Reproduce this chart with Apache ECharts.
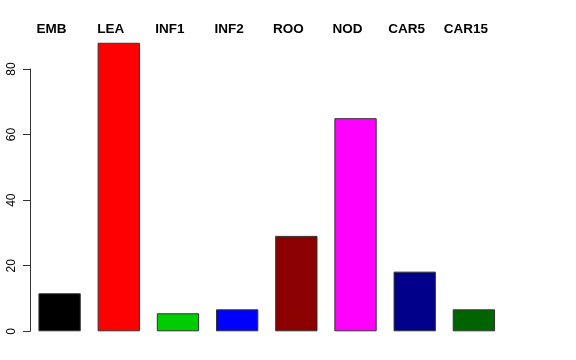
<!DOCTYPE html>
<html>
<head>
<meta charset="utf-8">
<script src="https://cdn.jsdelivr.net/npm/echarts@6/dist/echarts.min.js"></script>
<style>
html,body{margin:0;padding:0;background:#fff;}
#chart{width:576px;height:360px;}
</style>
</head>
<body>
<div id="chart"></div>
<script>
const categories = ["EMB", "LEA", "INF1", "INF2", "ROO", "NOD", "CAR5", "CAR15"];
const values = [11.6, 88, 5.5, 6.7, 29.1, 65, 18.2, 6.7];
const barColors = ["#000000", "#FF0000", "#00CD00", "#0000FF", "#8B0000", "#FF00FF", "#00008B", "#006400"];
const yTicks = [0, 20, 40, 60, 80];

const chart = echarts.init(document.getElementById('chart'), null, {renderer: 'canvas'});
chart.setOption({
  animation: false,
  backgroundColor: '#ffffff',
  grid: {left: 30, right: 72.5, top: 69, bottom: 28.7, containLabel: false},
  xAxis: {
    type: 'category',
    position: 'top',
    data: categories,
    axisLine: {show: false},
    axisTick: {show: false},
    axisLabel: {
      fontFamily: 'Liberation Sans, Arial, sans-serif',
      fontWeight: 'bold',
      fontSize: 13.5,
      color: '#000',
      margin: 33,
      padding: [0, 16, 0, 0],
      interval: 0
    }
  },
  yAxis: {
    type: 'value',
    min: yTicks[0],
    max: yTicks[yTicks.length - 1],
    interval: 20,
    splitLine: {show: false},
    axisLine: {show: true, lineStyle: {color: '#333', width: 1}},
    axisTick: {show: true, length: 7, lineStyle: {color: '#333'}},
    axisLabel: {
      rotate: 90,
      fontFamily: 'Liberation Sans, Arial, sans-serif',
      fontSize: 12,
      color: '#000',
      margin: 12
    }
  },
  series: [{
    type: 'bar',
    clip: false,
    barWidth: '71.5%',
    data: values.map((v, i) => ({
      value: v,
      itemStyle: {color: barColors[i], borderColor: '#333', borderWidth: 1}
    }))
  }]
});
</script>
</body>
</html>
